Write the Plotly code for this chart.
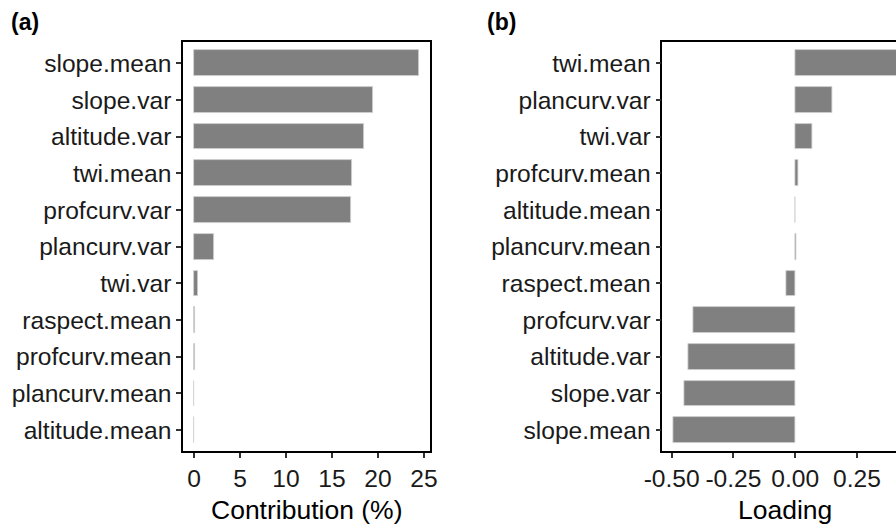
import plotly.graph_objects as go

# Panel (a): contribution (%), listed bottom -> top
cat_a = ["altitude.mean", "plancurv.mean", "profcurv.mean", "raspect.mean", "twi.var",
         "plancurv.var", "profcurv.var", "twi.mean", "altitude.var", "slope.var", "slope.mean"]
val_a = [0.0, 0.0, 0.05, 0.15, 0.45, 2.15, 17.1, 17.2, 18.5, 19.5, 24.5]

# Panel (b): loading, listed bottom -> top
cat_b = ["slope.mean", "slope.var", "altitude.var", "profcurv.var", "raspect.mean",
         "plancurv.mean", "altitude.mean", "profcurv.mean", "twi.var", "plancurv.var", "twi.mean"]
val_b = [-0.495, -0.447, -0.434, -0.413, -0.035, 0.003, 0.002, 0.012, 0.069, 0.15, 0.45]

ticks_a = [0, 5, 10, 15, 20, 25]
ticks_b = [-0.50, -0.25, 0.00, 0.25]
ticktext_b = ["-0.50", "-0.25", "0.00", "0.25"]

FONT = "Liberation Sans, Arial, sans-serif"
BAR = "#808080"
EDGE = "#d0d0d0"

fig = go.Figure()
fig.add_trace(go.Bar(x=val_a, y=cat_a, orientation="h", width=0.7,
                     marker=dict(color=BAR, line=dict(color=EDGE, width=0.8)),
                     xaxis="x", yaxis="y", showlegend=False))
fig.add_trace(go.Bar(x=val_b, y=cat_b, orientation="h", width=0.7,
                     marker=dict(color=BAR, line=dict(color=EDGE, width=0.8)),
                     xaxis="x2", yaxis="y2", showlegend=False))

tickfont = dict(family=FONT, size=24.6, color="#1a1a1a")
titlefont = dict(family=FONT, size=26.5, color="#000000")
ydom = [1 - 451 / 528, 1 - 42 / 528]

common = dict(ticks="outside", ticklen=5, tickwidth=1.5, tickcolor="#333333",
              showline=True, linecolor="black", linewidth=1.5,
              showgrid=False, zeroline=False, tickfont=tickfont, automargin=False)

fig.update_layout(
    width=896, height=528,
    margin=dict(l=0, r=0, t=0, b=0, autoexpand=False),
    paper_bgcolor="white", plot_bgcolor="white",
    bargap=0,
    xaxis=dict(domain=[183 / 896, 430 / 896], range=[-1.2, 25.65],
               tickvals=ticks_a, mirror=True, **common),
    yaxis=dict(domain=ydom, type="category", categoryorder="array", categoryarray=cat_a,
               range=[-0.57, 10.58], mirror=True, **common),
    xaxis2=dict(domain=[662.3 / 896, 1.0], range=[-0.538, 0.408], anchor="y2",
                tickvals=ticks_b, ticktext=ticktext_b, mirror=True, **common),
    yaxis2=dict(domain=ydom, anchor="x2", type="category", categoryorder="array", categoryarray=cat_b,
                range=[-0.57, 10.58], mirror=False, **common),
    annotations=[
        dict(text="<b>(a)</b>", x=9 / 896, y=1 - 22 / 528, xref="paper", yref="paper",
             xanchor="left", yanchor="middle", showarrow=False,
             font=dict(family=FONT, size=23, color="black")),
        dict(text="<b>(b)</b>", x=485 / 896, y=1 - 22 / 528, xref="paper", yref="paper",
             xanchor="left", yanchor="middle", showarrow=False,
             font=dict(family=FONT, size=23, color="black")),
        dict(text="Contribution (%)", x=306.5 / 896, y=1 - 510 / 528, xref="paper", yref="paper",
             xanchor="center", yanchor="middle", showarrow=False, font=titlefont),
        dict(text="Loading", x=785 / 896, y=1 - 510 / 528, xref="paper", yref="paper",
             xanchor="center", yanchor="middle", showarrow=False, font=titlefont),
    ],
)

fig.write_html("out.html")
